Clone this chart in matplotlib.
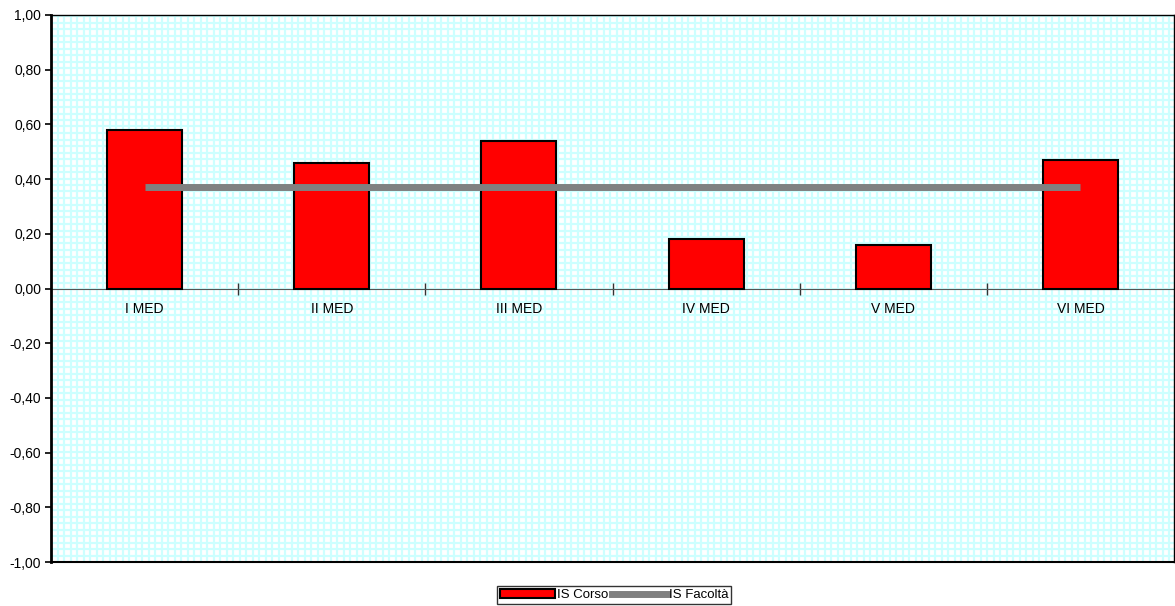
import numpy as np
import matplotlib
matplotlib.use("Agg")
import matplotlib.pyplot as plt
from matplotlib.patches import Patch
from matplotlib.lines import Line2D

plt.rcParams['font.family'] = ['Liberation Sans', 'DejaVu Sans']

categorie = ["I MED", "II MED", "III MED", "IV MED", "V MED", "VI MED"]
is_corso = [0.58, 0.46, 0.54, 0.18, 0.16, 0.47]
is_facolta = [0.37, 0.37, 0.37, 0.37, 0.37, 0.37]
y_ticks = [-1.0, -0.8, -0.6, -0.4, -0.2, 0.0, 0.2, 0.4, 0.6, 0.8, 1.0]

fig = plt.figure(figsize=(11.75, 6.06), dpi=100)
ax = fig.add_axes([51 / 1175, 1 - 562 / 606, 1123 / 1175, 547 / 606])

# sfondo a griglia (motivo Excel)
ax.set_facecolor("white")
passo_px = 6.5
for xf in np.arange(passo_px / 1123, 1, passo_px / 1123):
    ax.plot([xf, xf], [0, 1], transform=ax.transAxes, color="#cdffff", lw=1.6, zorder=0)
for yf in np.arange(passo_px / 547, 1, passo_px / 547):
    ax.plot([0, 1], [yf, yf], transform=ax.transAxes, color="#cdffff", lw=1.6, zorder=0)

x = np.arange(len(categorie))
ax.bar(x, is_corso, width=0.4, color="#ff0000", edgecolor="black", linewidth=1.5, zorder=3)
ax.plot(x, is_facolta, color="#808080", lw=5, solid_capstyle="butt", zorder=4)

ax.set_xlim(-0.5, len(categorie) - 0.5)
ax.set_ylim(-1, 1)
ax.set_yticks(y_ticks)
ax.set_yticklabels([f"{v:.2f}".replace(".", ",") for v in y_ticks], fontsize=10)
ax.tick_params(axis="y", direction="out", length=4, width=1.2, pad=3)

ax.spines["bottom"].set_position(("data", 0))
ax.spines["bottom"].set_color("#555555")
ax.spines["bottom"].set_zorder(2)
ax.spines["left"].set_linewidth(2)
ax.spines["top"].set_linewidth(1)
ax.spines["right"].set_linewidth(1)
ax.axhline(-1, color="black", lw=1.5, clip_on=False, zorder=5)

ax.set_xticks(x)
ax.set_xticklabels(categorie, fontsize=10)
ax.tick_params(axis="x", which="major", length=0, pad=10)
ax.set_xticks(x[:-1] + 0.5, minor=True)
ax.tick_params(axis="x", which="minor", direction="inout", length=9, width=1, color="#333333")

handles = [Patch(facecolor="#ff0000", edgecolor="black", linewidth=1.5),
           Line2D([0], [0], color="#808080", lw=5)]
leg = fig.legend(handles, ["IS Corso", "IS Facoltà"], loc="center", ncol=2,
                 bbox_to_anchor=(614 / 1175, 1 - 595 / 606), frameon=True, fancybox=False,
                 edgecolor="black", fontsize=9.5, handlelength=4.2, handleheight=0.7,
                 handletextpad=0.1, columnspacing=0.3, borderpad=0.2, borderaxespad=0)
leg.get_frame().set_linewidth(1)

fig.savefig("out.png", dpi=100)
